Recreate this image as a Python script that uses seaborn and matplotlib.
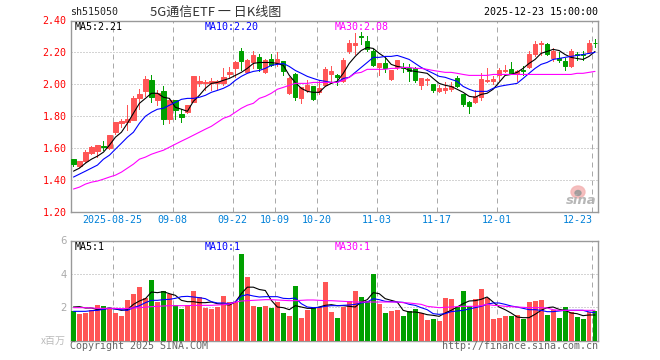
import numpy as np
import pandas as pd
import matplotlib
matplotlib.use("Agg")
import matplotlib.pyplot as plt
from matplotlib.patches import Ellipse
import seaborn as sns

opens = [1.531,1.487,1.519,1.569,1.581,1.612,1.6,1.7,1.756,1.762,1.775,1.912,1.956,2.025,1.9,1.956,1.781,1.9,1.812,1.825,
         1.887,2.006,2.006,2.006,2.006,2.006,2.062,2.1,2.206,2.075,2.137,2.169,2.075,2.156,2.131,2.144,1.944,2.062,1.912,1.962,
         1.987,1.95,1.994,2.062,2.056,2.019,2.206,2.244,2.3,2.269,2.212,2.106,2.131,2.031,2.106,2.106,2.1,2.1,1.994,2.025,
         2.0,1.956,1.962,1.969,2.037,1.937,1.887,1.887,1.919,2.019,2.019,2.056,2.081,2.094,2.062,2.087,2.106,2.187,2.25,2.25,
         2.162,2.162,2.144,2.112,2.187,2.187,2.2,2.262]
closes = [1.5,1.519,1.575,1.606,1.619,1.606,1.681,1.762,1.769,1.781,1.912,1.937,2.031,1.919,1.944,1.781,1.9,1.837,1.794,1.869,
          2.05,2.019,2.012,2.019,2.019,2.044,2.075,2.137,2.144,2.15,2.181,2.1,2.15,2.119,2.156,2.081,2.037,1.919,1.981,1.994,
          1.906,1.975,2.094,2.081,2.044,2.15,2.262,2.262,2.294,2.219,2.119,2.131,2.1,2.087,2.15,2.1,2.081,2.025,2.037,2.031,
          1.962,1.975,1.975,1.987,1.987,1.875,1.862,1.925,2.031,2.025,2.031,2.087,2.087,2.062,2.081,2.081,2.187,2.25,2.256,2.187,
          2.206,2.15,2.112,2.212,2.181,2.181,2.262,2.256]
highs = [1.531,1.519,1.587,1.612,1.619,1.644,1.681,1.762,1.781,1.869,1.925,1.969,2.05,2.056,1.962,1.987,1.906,1.9,1.844,1.869,
         2.05,2.05,2.025,2.037,2.025,2.1,2.106,2.144,2.225,2.156,2.206,2.187,2.156,2.187,2.2,2.144,2.044,2.069,1.981,2.025,
         1.987,2.025,2.106,2.112,2.062,2.162,2.275,2.319,2.331,2.3,2.219,2.131,2.162,2.087,2.15,2.131,2.125,2.106,2.037,2.037,
         2.0,1.994,2.012,2.012,2.05,1.937,1.894,1.962,2.069,2.1,2.05,2.1,2.119,2.137,2.087,2.112,2.212,2.269,2.269,2.262,
         2.225,2.2,2.162,2.219,2.2,2.206,2.275,2.281]
lows = [1.487,1.481,1.512,1.562,1.544,1.587,1.594,1.687,1.731,1.712,1.775,1.844,1.925,1.887,1.869,1.75,1.756,1.781,1.762,1.819,
        1.887,1.987,1.962,1.962,1.969,1.994,2.044,2.044,2.087,2.075,2.1,2.081,2.069,2.112,2.112,2.056,1.937,1.9,1.881,1.95,
        1.9,1.937,1.987,2.006,1.994,2.012,2.194,2.187,2.25,2.212,2.112,2.056,2.075,2.025,2.094,2.075,2.019,2.012,1.969,1.994,
        1.95,1.95,1.944,1.956,1.981,1.862,1.819,1.881,1.9,2.012,2.0,2.025,2.075,2.062,2.019,2.056,2.1,2.175,2.181,2.181,
        2.144,2.137,2.087,2.106,2.15,2.15,2.194,2.237]
ma5 = [1.456,1.475,1.506,1.531,1.55,1.575,1.619,1.669,1.7,1.756,1.819,1.881,1.912,1.944,1.944,1.919,1.912,1.856,1.844,1.831,
       1.894,1.931,1.975,2.006,2.012,2.025,2.037,2.056,2.075,2.1,2.131,2.137,2.137,2.137,2.131,2.119,2.056,2.012,1.975,1.956,
       1.95,1.95,1.987,2.006,2.019,2.069,2.131,2.175,2.212,2.231,2.225,2.194,2.169,2.125,2.112,2.106,2.087,2.081,2.075,2.069,
       2.037,2.006,1.994,1.987,1.969,1.95,1.925,1.919,1.937,1.944,1.969,2.012,2.056,2.062,2.075,2.1,2.131,2.156,2.194,2.206,
       2.219,2.212,2.187,2.169,2.162,2.156,2.175,2.206]
ma10 = [1.419,1.4375,1.456,1.475,1.494,1.531,1.556,1.594,1.631,1.669,1.7,1.756,1.8,1.825,1.844,1.85,1.869,1.887,1.906,1.912,
        1.912,1.919,1.931,1.95,1.962,1.975,1.994,2.025,2.05,2.069,2.081,2.087,2.1,2.119,2.125,2.131,2.112,2.087,2.069,2.05,
        2.037,2.025,2.019,2.012,2.012,2.037,2.044,2.075,2.106,2.137,2.169,2.169,2.175,2.175,2.181,2.169,2.156,2.131,2.106,2.087,
        2.069,2.05,2.044,2.031,2.019,1.987,1.969,1.956,1.956,1.956,1.975,1.987,1.994,2.0,2.006,2.037,2.069,2.1,2.125,2.137,
        2.156,2.162,2.169,2.175,2.181,2.187,2.194,2.2]
ma30 = [1.344,1.356,1.375,1.387,1.394,1.406,1.419,1.431,1.45,1.475,1.5,1.531,1.544,1.562,1.575,1.587,1.606,1.625,1.644,1.662,
        1.681,1.7,1.719,1.737,1.762,1.787,1.8,1.825,1.85,1.869,1.881,1.912,1.925,1.944,1.969,1.981,1.994,2.006,2.006,2.006,
        2.012,2.012,2.012,2.012,2.012,2.025,2.044,2.069,2.075,2.094,2.094,2.094,2.094,2.1,2.1,2.106,2.106,2.1,2.1,2.094,
        2.087,2.081,2.075,2.075,2.069,2.062,2.056,2.056,2.056,2.056,2.062,2.062,2.062,2.062,2.062,2.062,2.062,2.062,2.062,2.062,
        2.062,2.062,2.062,2.062,2.069,2.069,2.075,2.081]
volume = [1.75,1.57,1.63,1.81,2.11,2.05,1.93,1.63,1.45,2.41,2.77,3.24,2.53,3.66,2.29,2.95,2.77,2.11,1.87,2.11,
          3.0,2.59,1.93,1.87,1.99,2.65,2.29,2.29,5.21,3.84,2.05,1.99,2.05,1.93,2.29,1.63,1.45,3.30,1.33,1.81,
          1.93,1.99,3.54,1.69,1.33,1.99,2.35,2.95,2.59,2.35,4.02,2.17,1.63,1.75,1.81,1.45,1.75,1.87,1.63,1.21,
          1.27,1.15,2.53,2.47,1.99,3.0,2.05,2.47,3.12,2.53,1.27,1.33,1.45,1.45,1.51,1.27,2.29,2.35,2.41,1.51,
          1.81,1.33,1.99,1.69,1.39,1.27,1.69,1.75]
vol_ma5 = [2.01,2.03,1.95,1.95,1.85,1.89,1.95,1.89,1.81,1.85,2.17,2.37,2.51,2.91,2.87,2.93,2.81,2.71,2.41,2.33,
           2.33,2.27,2.27,2.31,2.21,2.17,2.13,2.31,2.81,3.2,3.2,3.06,3.0,2.41,2.01,1.97,1.85,2.09,2.01,1.93,
           1.93,2.01,2.11,2.15,2.09,2.09,2.05,2.01,2.31,2.45,2.87,2.81,2.51,2.41,2.31,1.81,1.71,1.71,1.65,1.55,
           1.51,1.45,1.65,1.81,2.01,2.21,2.37,2.39,2.47,2.61,2.31,2.01,1.85,1.65,1.41,1.37,1.37,1.57,1.81,1.97,
           2.01,1.87,1.81,1.65,1.61,1.49,1.53,1.53]
vol_ma10 = [1.75,1.75,1.75,1.79,1.81,1.87,1.93,1.89,1.85,1.81,1.97,2.09,2.27,2.41,2.41,2.45,2.47,2.53,2.63,2.65,
            2.61,2.57,2.51,2.33,2.25,2.25,2.21,2.31,2.67,2.75,2.67,2.61,2.63,2.63,2.63,2.53,2.51,2.55,2.21,2.01,
            1.97,1.99,2.05,2.09,2.09,2.11,2.13,2.17,2.25,2.31,2.51,2.45,2.35,2.33,2.31,2.29,2.17,2.11,1.97,1.85,
            1.61,1.57,1.61,1.73,1.77,1.81,1.89,1.97,2.05,2.17,2.25,2.25,2.17,2.07,2.01,1.93,1.85,1.85,1.81,1.73,
            1.73,1.77,1.81,1.81,1.81,1.81,1.71,1.67]
vol_ma30 = [1.97,1.97,1.97,1.95,1.93,1.93,1.93,1.93,1.91,1.93,1.95,1.97,2.0,2.03,2.05,2.07,2.09,2.09,2.09,2.09,
            2.11,2.11,2.11,2.11,2.13,2.15,2.19,2.3,2.37,2.39,2.41,2.43,2.45,2.45,2.43,2.41,2.39,2.39,2.41,2.43,
            2.43,2.41,2.39,2.39,2.37,2.35,2.33,2.31,2.31,2.31,2.31,2.31,2.31,2.31,2.31,2.27,2.25,2.21,2.17,2.05,
            2.01,1.97,1.99,2.01,2.03,2.05,2.05,2.05,2.09,2.17,2.11,2.09,2.05,2.03,2.01,1.99,1.97,1.97,1.97,1.95,
            1.85,1.81,1.81,1.81,1.81,1.81,1.81,1.81]
date_positions = [7, 17, 27, 34, 41, 51, 61, 71, 87]
date_labels = ["2025-08-25", "09-08", "09-22", "10-09", "10-20", "11-03", "11-17", "12-01", "12-23"]
price_ticks = [2.40, 2.20, 2.00, 1.80, 1.60, 1.40, 1.20]
volume_ticks = [2, 4, 6]

RED, GREEN = "#ff5555", "#00a000"
GRAY, GRID = "#999999", "#aaaaaa"
W, H = 660, 360
LW = 0.72

sns.set_style("white")
plt.rcParams["font.family"] = ["DejaVu Sans Mono", "Noto Sans CJK SC"]
plt.rcParams["font.size"] = 7.2

df = pd.DataFrame(dict(i=np.arange(len(opens)), open=opens, close=closes, high=highs, low=lows,
                       ma5=ma5, ma10=ma10, ma30=ma30, vol=volume,
                       vma5=vol_ma5, vma10=vol_ma10, vma30=vol_ma30))
df["dir"] = np.where(df.close >= df.open, "up", "down")
colors = df.dir.map({"up": RED, "down": GREEN})

fig = plt.figure(figsize=(W / 100, H / 100), dpi=100, facecolor="white")
def axes_px(l, t, r, b):
    return fig.add_axes([l / W, 1 - b / H, (r - l) / W, (b - t) / H])
ax = axes_px(70.5, 20.5, 598, 212)
vx = axes_px(70.5, 240.5, 598, 340.5)
px_x = lambda x: x / W
px_y = lambda y: 1 - y / H

# candles
ax.vlines(df.i, df.low, df.high, colors=colors, lw=LW, zorder=3, antialiased=False)
ax.bar(df.i, (df.close - df.open).abs(), bottom=df[["open", "close"]].min(axis=1), width=0.72,
       color=colors, edgecolor=colors, linewidth=LW, zorder=3)
for col, c in [("ma5", "black"), ("ma10", "#0000ff"), ("ma30", "#ff00ff")]:
    sns.lineplot(data=df, x="i", y=col, ax=ax, color=c, linewidth=0.8, errorbar=None, zorder=4)

# volume
sns.barplot(data=df, x="i", y="vol", hue="dir", palette={"up": RED, "down": GREEN}, native_scale=True,
            dodge=False, width=0.83, saturation=1, legend=False, ax=vx, zorder=3, linewidth=0, edgecolor="none")
for col, c in [("vma5", "black"), ("vma10", "#0000ff"), ("vma30", "#ff00ff")]:
    sns.lineplot(data=df, x="i", y=col, ax=vx, color=c, linewidth=0.8, errorbar=None, zorder=4)

for a in (ax, vx):
    a.set_xlim(-0.5, 87.5)
    a.set_xlabel(""); a.set_ylabel("")
    a.set_xticks([p - 0.42 for p in date_positions])
    a.xaxis.grid(True, color=GRID, lw=LW, ls=(0, (5, 4)), zorder=2)
    a.yaxis.grid(True, color=GRID, lw=LW, ls=(0, (1, 2)), zorder=1)
    a.set_axisbelow(True)
    a.tick_params(length=0, pad=3)
    for s in a.spines.values():
        s.set_color(GRAY); s.set_linewidth(1)
ax.set_ylim(1.20, 2.40)
ax.set_yticks(price_ticks)
ax.set_yticklabels([f"{v:.2f}" for v in price_ticks], color="#ff0000")
ax.set_xticklabels([])
vx.set_ylim(0, 6)
vx.set_yticks(volume_ticks)
vx.set_yticklabels([str(v) for v in volume_ticks], color=GRID, family="DejaVu Sans")
vx.set_xticklabels([])

# date labels
for p, lab in zip(date_positions, date_labels):
    ha = "right" if lab == date_labels[-1] else "center"
    fig.text(px_x(73 + 6 * p - 2.5), px_y(220), lab, color="#0080d8", ha=ha, va="center")

# header and legends
fig.text(px_x(70), px_y(12), "sh515050", color="#222222", va="center")
fig.text(px_x(216), px_y(12), "5G通信ETF 一 日K线图", color="#333333", ha="center", va="center",
         family=["Noto Sans CJK SC"], fontsize=9.4)
fig.text(px_x(598), px_y(12), "2025-12-23 15:00:00", color="black", ha="right", va="center")
for x, label, c in [(75, "MA5:2.21", "black"), (205, "MA10:2.20", "#0000ff"), (335, "MA30:2.08", "#ff00ff")]:
    fig.text(px_x(x), px_y(27), label, color=c, va="center", zorder=6)
for x, label, c in [(75, "MA5:1", "black"), (205, "MA10:1", "#0000ff"), (335, "MA30:1", "#ff00ff")]:
    fig.text(px_x(x), px_y(246.5), label, color=c, va="center", zorder=6)
fig.text(px_x(66), px_y(341), "x百万", color="#bbbbbb", ha="right", va="center", family=["Noto Sans CJK SC"], fontsize=7.2)
fig.text(px_x(70), px_y(346), "Copyright 2025 SINA.COM", color="#666666", va="center")
fig.text(px_x(598), px_y(346), "http://finance.sina.com.cn", color="#666666", ha="right", va="center")

# watermark
fig.add_artist(Ellipse((px_x(578), px_y(192)), 14 / W, 12 / H, transform=fig.transFigure, color="#f4b4b4", alpha=0.85, zorder=5))
fig.add_artist(Ellipse((px_x(578), px_y(193)), 6 / W, 5 / H, transform=fig.transFigure, color="#999999", alpha=0.85, zorder=5))
fig.text(px_x(581), px_y(200), "sina", color="#b0b0b0", ha="center", va="center", style="italic", weight="bold",
         family="DejaVu Sans", fontsize=9.5, alpha=0.9, zorder=6)

fig.savefig("out.png", dpi=100, facecolor="white")
